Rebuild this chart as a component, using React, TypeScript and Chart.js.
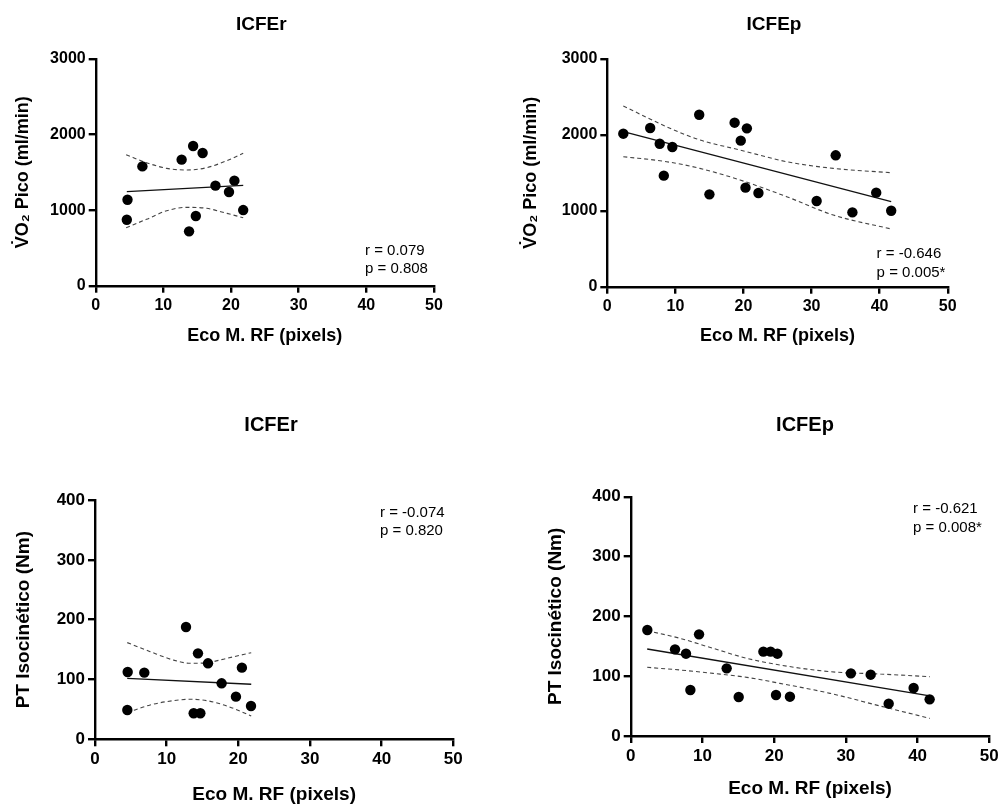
import React, { useEffect, useRef } from "react";
import { Chart, registerables } from "chart.js";

Chart.register(...registerables);

const FONT = "'Liberation Sans', Arial, Helvetica, sans-serif";

// ---------- Panel 1: ICFEr, VO2 pico ----------
const p1X = [4.6, 4.7, 6.9, 12.7, 14.4, 15.8, 17.7, 20.5, 19.7, 21.8, 14.8, 13.8];
const p1Y = [873, 1138, 1579, 1668, 1849, 1756, 1324, 1390, 1240, 1001, 922, 719];
const p1FitX = [4.6, 21.8];
const p1FitY = [1244, 1328];
const p1BandX = [4.5, 7.5, 10.5, 13.5, 16.4, 19.4, 21.8];
const p1UpperY = [1733, 1628, 1553, 1531, 1562, 1655, 1752];
const p1LowerY = [768, 878, 992, 1037, 1024, 957, 900];

// ---------- Panel 2: ICFEp, VO2 pico ----------
const p2X = [2.35, 6.3, 7.7, 9.55, 8.3, 13.5, 15.0, 18.7, 20.5, 19.6, 20.3, 22.2, 30.75, 33.55, 36.0, 39.5, 41.7];
const p2Y = [2016, 2091, 1884, 1840, 1463, 2266, 1217, 2161, 2086, 1924, 1305, 1234, 1129, 1731, 979, 1239, 1001];
const p2FitX = [2.35, 41.7];
const p2FitY = [2042, 1120];
const p2BandX = [2.35, 8.7, 13.6, 19.5, 26.35, 33.2, 41.7];
const p2UpperY = [2381, 2108, 1933, 1801, 1647, 1559, 1502];
const p2LowerY = [1713, 1647, 1559, 1406, 1186, 944, 760];

// ---------- Panel 3: ICFEr, PT isocinético ----------
const p3X = [4.56, 6.88, 4.51, 12.7, 14.37, 15.77, 17.67, 20.5, 19.67, 21.77, 13.77, 14.7];
const p3Y = [112.5, 111.4, 49, 187.7, 143.7, 127, 93.6, 119.8, 71.3, 55.7, 43.5, 43.5];
const p3FitX = [4.5, 21.8];
const p3FitY = [102, 92];
const p3BandX = [4.5, 7.7, 10.9, 13.3, 15.6, 18.4, 21.8];
const p3UpperY = [161.6, 146.5, 132.6, 127, 128, 135.4, 144.8];
const p3LowerY = [44.6, 57.4, 64.6, 66.9, 64.6, 55.7, 39];

// ---------- Panel 4: ICFEp, PT isocinético ----------
const p4X = [2.32, 6.18, 7.71, 9.53, 8.32, 13.38, 15.06, 18.5, 19.5, 20.45, 20.26, 22.2, 30.7, 33.46, 35.97, 39.45, 41.68];
const p4Y = [177.2, 144.8, 137.6, 169.9, 76.9, 113.1, 65.2, 141, 141, 137.6, 68.5, 65.7, 104.7, 102.5, 54, 80.2, 61.3];
const p4FitX = [2.3, 41.7];
const p4FitY = [145.4, 66.9];
const p4BandX = [2.3, 6.9, 11.5, 16.2, 20.8, 27.8, 34.8, 41.7];
const p4UpperY = [176, 163.2, 146.5, 129.8, 118.7, 107.5, 103.6, 99.2];
const p4LowerY = [114.8, 110.3, 104.7, 98, 88, 71.3, 50.1, 29.5];

// labels
const xTicks = [0, 10, 20, 30, 40, 50];
const yTicksVO2 = [0, 1000, 2000, 3000];
const yTicksPT = [0, 100, 200, 300, 400];
const xTitle = "Eco M. RF (pixels)";
const yTitleVO2 = "V\u0307O\u2082 Pico (ml/min)";
const yTitlePT = "PT Isocin\u00e9tico (Nm)";

const toPts = (xs: number[], ys: number[]) => xs.map((x, i) => ({ x, y: ys[i] }));

type PanelProps = {
  left: number;
  top: number;
  width: number;
  height: number;
  title: string;
  titleX: number;
  titleY: number;
  titleSize: number;
  xs: number[];
  ys: number[];
  fitX: number[];
  fitY: number[];
  bandX: number[];
  upper: number[];
  lower: number[];
  yTicks: number[];
  yTitle: string;
  yScaleWidth: number;
  xScaleHeight: number;
  padTop: number;
  padRight: number;
  xTitlePad: number;
  yTitlePad: number;
  axisTitleSize: number;
  tickSize: number;
  stats: string[];
  statX: number;
  statY: number[];
};

const panelText = {
  id: "panelText",
  afterDraw(chart: any, _args: any, opts: any) {
    const ctx = chart.ctx;
    const xs = chart.scales.x;
    const ys = chart.scales.y;
    ctx.save();
    ctx.fillStyle = "#000";
    ctx.textBaseline = "alphabetic";
    ctx.textAlign = "center";
    ctx.font = `bold ${opts.titleSize}px ${FONT}`;
    ctx.fillText(opts.title, opts.titleX, opts.titleY);
    ctx.textAlign = "left";
    ctx.font = `15px ${FONT}`;
    opts.stats.forEach((s: string, i: number) => {
      ctx.fillText(s, xs.getPixelForValue(opts.statX), ys.getPixelForValue(opts.statY[i]));
    });
    ctx.restore();
  },
};

function Panel(p: PanelProps) {
  const ref = useRef<HTMLCanvasElement | null>(null);
  useEffect(() => {
    if (!ref.current) return;
    const yMax = p.yTicks[p.yTicks.length - 1];
    const yStep = p.yTicks[1] - p.yTicks[0];
    const chart = new Chart(ref.current, {
      type: "scatter",
      data: {
        datasets: [
          {
            data: toPts(p.xs, p.ys),
            backgroundColor: "#000",
            borderWidth: 0,
            pointRadius: 5.2,
            pointHoverRadius: 5.2,
          },
          {
            data: toPts(p.fitX, p.fitY),
            showLine: true,
            borderColor: "#111",
            borderWidth: 1.3,
            pointRadius: 0,
          },
          {
            data: toPts(p.bandX, p.upper),
            showLine: true,
            borderColor: "#444",
            borderWidth: 1.1,
            borderDash: [4, 3],
            cubicInterpolationMode: "monotone",
            pointRadius: 0,
          },
          {
            data: toPts(p.bandX, p.lower),
            showLine: true,
            borderColor: "#444",
            borderWidth: 1.1,
            borderDash: [4, 3],
            cubicInterpolationMode: "monotone",
            pointRadius: 0,
          },
        ] as any,
      },
      options: {
        animation: false,
        responsive: false,
        events: [],
        layout: { padding: { left: 0, top: p.padTop, right: p.padRight, bottom: 0 } },
        plugins: {
          legend: { display: false },
          tooltip: { enabled: false },
          title: { display: false },
          panelText: {
            title: p.title,
            titleX: p.titleX,
            titleY: p.titleY,
            titleSize: p.titleSize,
            stats: p.stats,
            statX: p.statX,
            statY: p.statY,
          },
        } as any,
        scales: {
          x: {
            type: "linear",
            min: 0,
            max: 50,
            afterFit: (s: any) => {
              s.height = p.xScaleHeight;
            },
            afterBuildTicks: (s: any) => {
              s.ticks = xTicks.map((v) => ({ value: v }));
            },
            ticks: {
              color: "#000",
              font: { family: FONT, size: p.tickSize, weight: "bold" },
              padding: 3,
              maxRotation: 0,
              callback: (v: any) => String(v),
            },
            grid: {
              display: true,
              drawOnChartArea: false,
              drawTicks: true,
              tickLength: 7,
              lineWidth: 2.4,
              color: "#000",
            },
            border: { display: true, width: 2.4, color: "#000" },
            title: {
              display: true,
              text: xTitle,
              color: "#000",
              font: { family: FONT, size: p.axisTitleSize, weight: "bold", lineHeight: 1 },
              padding: { top: 0, bottom: p.xTitlePad },
            },
          },
          y: {
            type: "linear",
            min: 0,
            max: yMax,
            afterFit: (s: any) => {
              s.width = p.yScaleWidth;
            },
            afterBuildTicks: (s: any) => {
              s.ticks = p.yTicks.map((v) => ({ value: v }));
            },
            ticks: {
              color: "#000",
              stepSize: yStep,
              font: { family: FONT, size: p.tickSize, weight: "bold" },
              padding: 3,
              callback: (v: any) => String(v),
            },
            grid: {
              display: true,
              drawOnChartArea: false,
              drawTicks: true,
              tickLength: 7,
              lineWidth: 2.4,
              color: "#000",
            },
            border: { display: true, width: 2.4, color: "#000" },
            title: {
              display: true,
              text: p.yTitle,
              color: "#000",
              font: { family: FONT, size: p.axisTitleSize, weight: "bold", lineHeight: 1 },
              padding: { top: p.yTitlePad, bottom: 0 },
            },
          },
        },
      } as any,
      plugins: [panelText],
    });
    return () => chart.destroy();
  }, []);
  return (
    <canvas
      ref={ref}
      width={p.width}
      height={p.height}
      style={{ position: "absolute", left: p.left, top: p.top, width: p.width, height: p.height }}
    />
  );
}

export default function App() {
  return (
    <div
      style={{
        position: "fixed",
        left: 0,
        top: 0,
        width: 999,
        height: 805,
        overflow: "hidden",
        background: "#fff",
      }}
    >
      <Panel
        left={0}
        top={0}
        width={500}
        height={400}
        title="ICFEr"
        titleX={261.3}
        titleY={30}
        titleSize={19}
        xs={p1X}
        ys={p1Y}
        fitX={p1FitX}
        fitY={p1FitY}
        bandX={p1BandX}
        upper={p1UpperY}
        lower={p1LowerY}
        yTicks={yTicksVO2}
        yTitle={yTitleVO2}
        yScaleWidth={95.7}
        xScaleHeight={114.3}
        padTop={59}
        padRight={66}
        xTitlePad={55}
        yTitlePad={14}
        axisTitleSize={18}
        tickSize={16}
        stats={["r = 0.079", "p = 0.808"]}
        statX={39.8}
        statY={[406, 168]}
      />
      <Panel
        left={500}
        top={0}
        width={499}
        height={400}
        title="ICFEp"
        titleX={274}
        titleY={30}
        titleSize={19}
        xs={p2X}
        ys={p2Y}
        fitX={p2FitX}
        fitY={p2FitY}
        bandX={p2BandX}
        upper={p2UpperY}
        lower={p2LowerY}
        yTicks={yTicksVO2}
        yTitle={yTitleVO2}
        yScaleWidth={107.3}
        xScaleHeight={113.3}
        padTop={59}
        padRight={51.3}
        xTitlePad={55}
        yTitlePad={22}
        axisTitleSize={18}
        tickSize={16}
        stats={["r = -0.646", "p = 0.005*"]}
        statX={39.56}
        statY={[378, 128]}
      />
      <Panel
        left={0}
        top={400}
        width={500}
        height={405}
        title="ICFEr"
        titleX={271}
        titleY={31}
        titleSize={20}
        xs={p3X}
        ys={p3Y}
        fitX={p3FitX}
        fitY={p3FitY}
        bandX={p3BandX}
        upper={p3UpperY}
        lower={p3LowerY}
        yTicks={yTicksPT}
        yTitle={yTitlePT}
        yScaleWidth={95}
        xScaleHeight={65.7}
        padTop={100}
        padRight={46.7}
        xTitlePad={0.5}
        yTitlePad={14}
        axisTitleSize={19}
        tickSize={17}
        stats={["r = -0.074", "p = 0.820"]}
        statX={39.77}
        statY={[371.6, 341.5]}
      />
      <Panel
        left={500}
        top={400}
        width={520}
        height={405}
        title="ICFEp"
        titleX={305}
        titleY={31}
        titleSize={20}
        xs={p4X}
        ys={p4Y}
        fitX={p4FitX}
        fitY={p4FitY}
        bandX={p4BandX}
        upper={p4UpperY}
        lower={p4LowerY}
        yTicks={yTicksPT}
        yTitle={yTitlePT}
        yScaleWidth={130.7}
        xScaleHeight={69}
        padTop={96.7}
        padRight={30.7}
        xTitlePad={6.5}
        yTitlePad={46.5}
        axisTitleSize={19}
        tickSize={17}
        stats={["r = -0.621", "p = 0.008*"]}
        statX={39.37}
        statY={[372.8, 341]}
      />
    </div>
  );
}
